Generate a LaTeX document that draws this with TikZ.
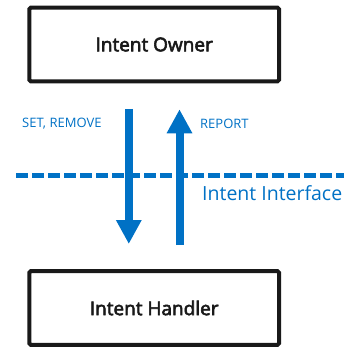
\documentclass[tikz,border=0pt]{standalone}
\usepackage{fontspec}
\setmainfont{Open Sans}
\newfontfamily\heavyfont{Open Sans}[FakeBold=3]
\usetikzlibrary{arrows.meta}
\definecolor{ifblue}{RGB}{0,113,197}
\begin{document}
\begin{tikzpicture}[x=1pt,y=-1pt,
  entity/.style={draw=black!90,line width=4pt,rounded corners=1.5pt,
    minimum width=249.7pt,minimum height=73.6pt,inner sep=0pt,
    font=\heavyfont\fontsize{19}{24}\selectfont,text=black!90},
  flow/.style={draw=ifblue,line width=8pt,
    -{Triangle[width=24pt,length=24pt]}},
  msg/.style={text=ifblue,font=\fontsize{13}{15}\selectfont,inner sep=0pt,anchor=west},
  boundary/.style={draw=ifblue,line width=4.3pt,dash pattern=on 12pt off 4pt}]
\useasboundingbox (0,0) rectangle (344,347);

% the two parties
\node[entity] (owner)   at (154.2,44.5) {Intent Owner};
\node[entity] (handler) at (154.2,308)  {Intent Handler};

% interface boundary
\coordinate (ifL) at (16,175.5);
\coordinate (ifR) at (352,175.5);
\draw[boundary] (ifL) -- (ifR);
\node[text=ifblue,font=\fontsize{19.5}{23}\selectfont,inner sep=0pt,anchor=base west]
  (iflabel) at (202,200.7) {Intent Interface};

% request and report flows
\coordinate (setA) at (128.8,109);
\coordinate (setB) at (128.8,244);
\coordinate (repA) at (179.5,245);
\coordinate (repB) at (179.5,109.3);
\draw[flow] (setA) -- (setB);
\draw[flow] (repA) -- (repB);

\node[msg] (setlbl) at (22,123.5) {SET, REMOVE};
\node[msg] (replbl) at (200,123.5) {REPORT};
\end{tikzpicture}
\end{document}
